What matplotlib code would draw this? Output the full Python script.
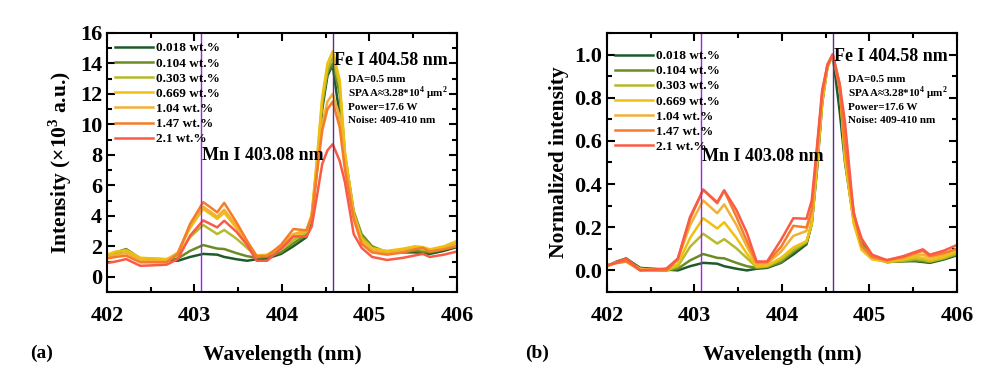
import matplotlib
matplotlib.use("Agg")
import matplotlib.pyplot as plt
import numpy as np
from matplotlib.ticker import MultipleLocator, FormatStrFormatter

plt.rcParams['font.family'] = ['Liberation Serif', 'DejaVu Serif']
plt.rcParams['font.weight'] = 'bold'
plt.rcParams['mathtext.fontset'] = 'custom'
plt.rcParams['mathtext.rm'] = 'Liberation Serif:bold'
plt.rcParams['mathtext.bf'] = 'Liberation Serif:bold'

# wavelength (nm)
wl = [402.00, 402.10, 402.22, 402.38, 402.52, 402.68, 402.81, 402.95, 403.10, 403.26,
      403.34, 403.48, 403.60, 403.71, 403.83, 403.99, 404.13, 404.28, 404.34, 404.40,
      404.46, 404.52, 404.58, 404.66, 404.72, 404.82, 404.91, 405.03, 405.20, 405.39,
      405.52, 405.61, 405.69, 405.85, 406.00]

labels = ['0.018 wt.%', '0.104 wt.%', '0.303 wt.%', '0.669 wt.%', '1.04 wt.%', '1.47 wt.%', '2.1 wt.%']
colors = ['#1e5b2a', '#6b8c23', '#b5bb2b', '#f0c010', '#f2b035', '#f57c28', '#fa5a46']

# intensity (x10^3 a.u.)
s0018 = [1.3, 1.55, 1.75, 1.2, 1.15, 1.1, 1.05, 1.3, 1.5, 1.45,
         1.3, 1.15, 1.05, 1.15, 1.2, 1.5, 2.0, 2.6, 3.8, 7.0,
         11.0, 13.2, 13.9, 10.5, 7.5, 4.0, 2.6, 1.9, 1.55, 1.6,
         1.6, 1.55, 1.5, 1.7, 1.95]
s0104 = [1.35, 1.6, 1.82, 1.2, 1.15, 1.1, 1.2, 1.7, 2.08, 1.85,
         1.82, 1.55, 1.35, 1.25, 1.3, 1.6, 2.2, 2.75, 3.9, 7.3,
         11.3, 13.4, 14.0, 12.0, 8.0, 4.3, 2.8, 2.0, 1.6, 1.65,
         1.7, 1.65, 1.6, 1.8, 2.05]
s0303 = [1.4, 1.6, 1.75, 1.2, 1.2, 1.15, 1.4, 2.6, 3.4, 2.8,
         3.07, 2.5, 1.9, 1.35, 1.4, 1.8, 2.4, 2.9, 4.0, 7.5,
         11.5, 13.6, 14.4, 12.5, 8.0, 4.2, 2.6, 1.9, 1.65, 1.75,
         1.85, 1.8, 1.7, 1.9, 2.2]
s0669 = [1.45, 1.65, 1.72, 1.25, 1.2, 1.15, 1.55, 3.2, 4.45, 3.8,
         4.2, 3.2, 2.2, 1.4, 1.45, 1.95, 2.6, 3.0, 4.1, 7.8,
         11.8, 14.0, 14.8, 12.9, 8.2, 4.1, 2.45, 1.85, 1.7, 1.85,
         2.0, 1.95, 1.8, 2.0, 2.35]
s104 = [1.3, 1.45, 1.55, 1.1, 1.05, 1.05, 1.6, 3.35, 4.6, 3.95,
        4.4, 3.35, 2.25, 1.35, 1.4, 2.0, 2.8, 3.05, 4.0, 7.0,
        10.0, 11.5, 12.0, 10.5, 7.5, 4.0, 2.3, 1.7, 1.55, 1.7,
        1.85, 1.85, 1.7, 1.85, 2.15]
s147 = [1.2, 1.3, 1.38, 0.95, 0.95, 0.95, 1.5, 3.47, 4.9, 4.23,
        4.85, 3.57, 2.37, 1.35, 1.35, 2.1, 3.13, 3.05, 3.9, 6.8,
        9.6, 11.0, 11.5, 9.8, 7.0, 3.8, 2.15, 1.6, 1.45, 1.6,
        1.8, 1.9, 1.65, 1.8, 2.0]
s21 = [0.9, 1.0, 1.16, 0.72, 0.75, 0.79, 1.16, 2.7, 3.7, 3.24,
       3.68, 2.95, 2.1, 1.05, 1.05, 1.85, 2.65, 2.63, 3.3, 5.3,
       7.4, 8.3, 8.7, 7.6, 6.2, 2.8, 1.9, 1.3, 1.1, 1.25,
       1.4, 1.5, 1.3, 1.45, 1.66]

series = [s0018, s0104, s0303, s0669, s104, s147, s21]

mn_line = 403.08
fe_line = 404.58

fig = plt.figure(figsize=(9.96, 3.84), dpi=100)
ax1 = fig.add_axes([0.1074, 0.2396, 0.3514, 0.6745])
ax2 = fig.add_axes([0.6094, 0.2396, 0.3514, 0.6745])

for s, lab, c in zip(series, labels, colors):
    y = np.array(s)
    ax1.plot(wl, y, color=c, lw=1.8, label=lab)
    ax2.plot(wl, (y - y.min()) / (y.max() - y.min()), color=c, lw=1.8, label=lab)

for ax in (ax1, ax2):
    ax.axvline(mn_line, color='#a020f0', lw=1.0)
    ax.axvline(fe_line, color='#5b2d90', lw=1.0)
    ax.set_xlim(402, 406)
    ax.xaxis.set_major_locator(MultipleLocator(1))
    ax.xaxis.set_minor_locator(MultipleLocator(0.5))
    ax.tick_params(which='both', direction='in', top=True, right=True, width=1.5)
    ax.tick_params(which='major', length=6, labelsize=16)
    ax.tick_params(axis='x', pad=10)
    ax.tick_params(which='minor', length=3.5)
    for sp in ax.spines.values():
        sp.set_linewidth(1.5)
    ax.set_xlabel('Wavelength (nm)', fontsize=15.5, fontweight='bold', labelpad=14)

ax1.legend(loc='upper left', bbox_to_anchor=(0.0, 0.995), frameon=False, fontsize=9.5,
           handlelength=2.9, handletextpad=0.2, labelspacing=0.22, borderaxespad=0.2)
ax2.legend(loc='upper left', bbox_to_anchor=(0.0, 0.965), frameon=False, fontsize=9.5,
           handlelength=2.9, handletextpad=0.2, labelspacing=0.22, borderaxespad=0.2)

ax1.set_ylim(-1, 16)
ax1.yaxis.set_major_locator(MultipleLocator(2))
ax1.yaxis.set_minor_locator(MultipleLocator(1))
ax1.set_ylabel('Intensity (×10$^3$ a.u.)', fontsize=15.5, fontweight='bold', labelpad=4)

ax2.set_ylim(-0.1, 1.1)
ax2.yaxis.set_major_locator(MultipleLocator(0.2))
ax2.yaxis.set_minor_locator(MultipleLocator(0.1))
ax2.yaxis.set_major_formatter(FormatStrFormatter('%.1f'))
ax2.set_ylabel('Normalized intensity', fontsize=15.5, fontweight='bold', labelpad=4)

ax1.text(404.6, 14.2, 'Fe I 404.58 nm', fontsize=13, fontweight='bold', va='center')
ax1.text(403.09, 7.95, 'Mn I 403.08 nm', fontsize=13, fontweight='bold', va='center')
ax2.text(404.6, 0.99, 'Fe I 404.58 nm', fontsize=13, fontweight='bold', va='center')
ax2.text(403.09, 0.53, 'Mn I 403.08 nm', fontsize=13, fontweight='bold', va='center')

info = ['DA=0.5 mm', 'SPAA≈3.28*10$^4$ μm$^2$', 'Power=17.6 W', 'Noise: 409-410 nm']
for ax in (ax1, ax2):
    for i, t in enumerate(info):
        ax.text(0.688, 0.82 - i * 0.053, t, transform=ax.transAxes, fontsize=8,
                fontweight='bold', va='center')

fig.text(0.030, 0.08, '(a)', fontsize=14, fontweight='bold', va='center')
fig.text(0.527, 0.08, '(b)', fontsize=14, fontweight='bold', va='center')

fig.savefig('out.png', dpi=100)
